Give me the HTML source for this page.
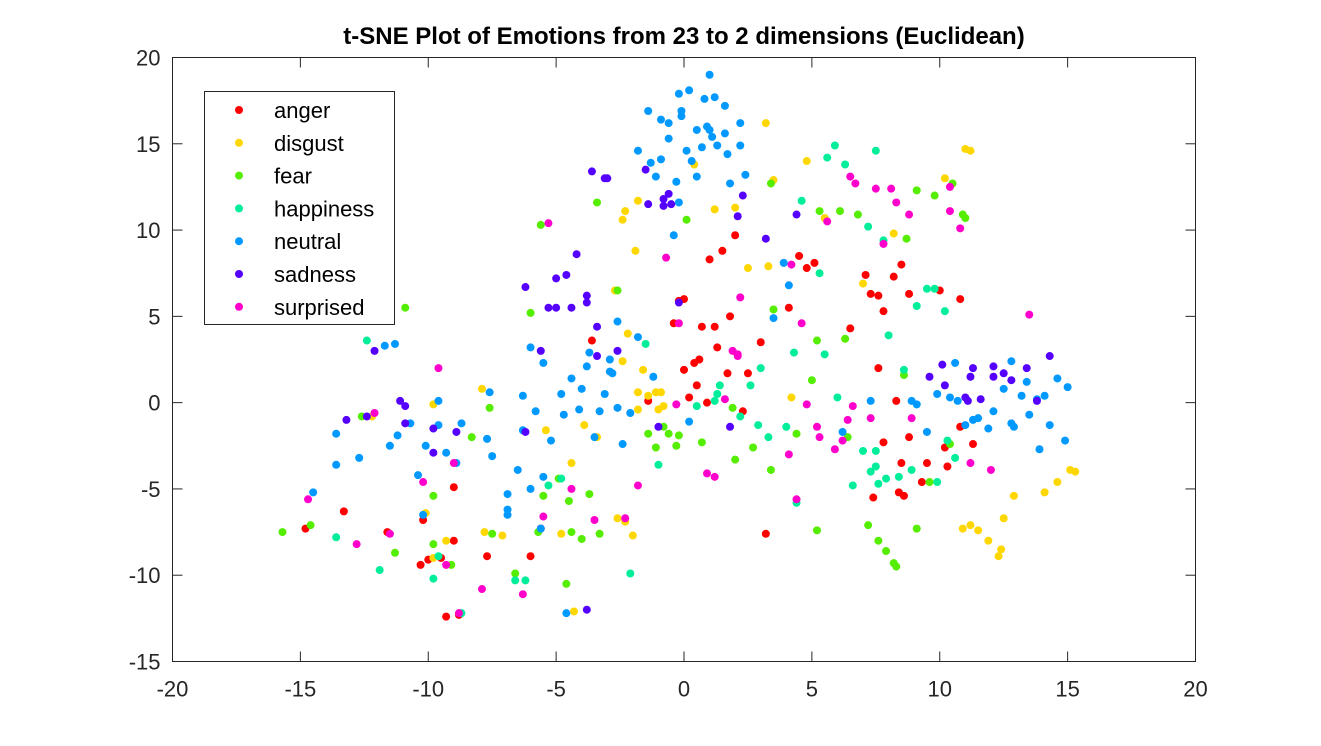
<!DOCTYPE html>
<html><head><meta charset="utf-8"><style>
html,body{margin:0;padding:0;background:#fff;}
svg{display:block;font-family:"Liberation Sans",Arial,sans-serif;}
</style></head><body>
<svg id="chart" width="1321" height="746" viewBox="0 0 1321 746" xmlns="http://www.w3.org/2000/svg">
<rect x="0" y="0" width="1321" height="746" fill="#fff"/>
<text x="684" y="44" text-anchor="middle" font-size="24" font-weight="bold" fill="#000">t-SNE Plot of Emotions from 23 to 2 dimensions (Euclidean)</text>
<g id="marks"></g>
<rect x="172.5" y="57.5" width="1023" height="604" fill="none" stroke="#262626" stroke-width="1"/>
<g id="axes"></g>
<g id="legend"></g>
</svg>
<script>
const xTicks=[-20,-15,-10,-5,0,5,10,15,20];
const yTicks=[-15,-10,-5,0,5,10,15,20];
const categories=["anger","disgust","fear","happiness","neutral","sadness","surprised"];
const colors=["#ff0000","#ffd700","#55ee00","#00ee99","#0099ff","#5500ff","#ff00cc"];
const anger=[[-14.8,-7.3],[-13.3,-6.3],[-11.6,-7.5],[-10.2,-6.8],[-10.3,-9.4],[-10,-9.1],[-9.5,-9.0],[-9.3,-12.4],[-9,-4.9],[-9,-8.0],[-8.8,-12.3],[-7.7,-8.9],[-6,-8.9],[-5.6,-7.3],[-3.6,3.6],[0.4,2.3],[0.6,2.5],[0.7,4.4],[1,8.3],[1.2,4.4],[1.5,8.8],[1.7,1.7],[1.3,3.2],[1.8,5],[2,9.7],[2.5,1.7],[3,3.5],[0.5,1.0],[0.9,0],[2.3,-0.5],[3.2,-7.6],[4.1,5.5],[4.5,8.5],[4.8,7.8],[5.1,8.1],[6.5,4.3],[7.1,7.4],[7.3,6.3],[7.6,6.2],[7.8,5.3],[8.2,7.3],[8.5,8],[7.6,2],[8.8,6.3],[10,6.5],[10.8,6],[7.8,-2.3],[7.4,-5.5],[8.5,-3.5],[8.4,-5.2],[8.6,-5.4],[9.5,-3.5],[10.2,-2.6],[10.3,-3.7],[10.8,-1.4],[11.3,-2.4],[9.3,-4.6],[8.8,-2.0],[8.3,0.1],[-0.2,5.9],[0,6.0],[-0.4,4.6],[0,1.9],[0.2,0.3],[-1.4,0.1]];
const disgust=[[-12.2,-0.8],[-9.8,-0.1],[-9.8,-9.0],[-9.3,-8.0],[-7.9,0.8],[-7.8,-7.5],[-7.1,-7.7],[-5.4,-1.6],[-4.8,-7.6],[-4.4,-3.5],[-4.3,-12.1],[-3.9,-1.3],[-2.6,-6.7],[-2.3,-6.9],[-2.0,-7.7],[-1.6,1.9],[-1.8,0.6],[-1.8,-0.4],[-1.0,-0.4],[-0.8,-0.2],[-1.4,0.4],[-1.1,0.6],[-0.9,0.6],[-2.3,11.1],[-1.8,11.7],[-1.9,8.8],[-2.4,10.6],[-2.7,6.5],[-2.2,4.0],[-2.4,2.4],[0.4,13.8],[1.2,11.2],[2.0,11.3],[3.2,16.2],[2.5,7.8],[3.3,7.9],[3.5,12.9],[4.8,14],[5.5,10.7],[7,6.9],[8.2,9.8],[10.2,13],[11,14.7],[11.2,14.6],[10.9,-7.3],[11.2,-7.1],[11.5,-7.4],[11.9,-8],[12.3,-8.9],[12.4,-8.5],[12.5,-6.7],[12.9,-5.4],[14.1,-5.2],[14.6,-4.6],[15.1,-3.9],[15.3,-4.0],[-10.1,-6.4],[-3.4,-2.0],[4.2,0.3]];
const fear=[[-15.7,-7.5],[-14.6,-7.1],[-11.3,-8.7],[-10.9,5.5],[-9.8,-5.4],[-9.8,-8.2],[-9.1,-9.4],[-7.6,-0.3],[-7.5,-7.6],[-6.6,-9.9],[-5.7,-7.5],[-5.5,-5.4],[-4.9,-4.4],[-4.6,-10.5],[-4.5,-5.7],[-4.4,-7.5],[-4.0,-7.9],[-3.7,-5.3],[-3.3,-7.6],[-6,5.2],[-5.6,10.3],[-3.4,11.6],[-2.6,6.5],[-1.4,-1.8],[-0.8,-1.4],[-0.6,-1.8],[-1.1,-2.6],[-0.3,-2.5],[-0.2,-1.9],[0.1,10.6],[0.7,-2.3],[1.9,-0.3],[2,-3.3],[2.7,-2.6],[3.4,-3.9],[3.5,5.4],[3.4,12.7],[4.4,-1.8],[5,1.3],[5.2,-7.4],[5.2,3.6],[5.3,11.1],[6.4,-2.0],[6.3,3.7],[6.8,10.9],[7.2,-7.1],[7.6,-8.0],[7.9,-8.6],[8.2,-9.3],[8.3,-9.5],[8.6,1.6],[9.1,12.3],[9.1,-7.3],[9.6,-4.6],[9.8,12],[10.4,-2.4],[10.5,12.7],[10.9,10.9],[11,10.7],[6.1,11.1],[8.7,9.5],[-12.6,-0.8],[-8.3,-2.0]];
const happiness=[[-12.4,3.6],[-11.9,-9.7],[-13.6,-7.8],[-9.8,-10.2],[-8.7,-12.2],[-6.6,-10.3],[-6.2,-10.3],[-4.8,-4.4],[-5.3,-4.8],[-2.1,-9.9],[-1.0,-3.6],[-1.5,3.4],[0.5,-0.2],[1.2,0.1],[1.3,0.5],[1.4,1.0],[2.2,-0.8],[2.6,1.0],[2.9,-1.3],[3.0,2.0],[3.3,-2.0],[4.0,-1.4],[4.3,2.9],[4.4,-5.8],[4.6,11.7],[5.3,7.5],[5.5,2.8],[5.6,14.2],[5.9,14.9],[6.3,13.8],[6.6,-4.8],[6.0,0.3],[7.3,-4.0],[7.5,-3.7],[7.6,-4.7],[7.9,-4.4],[7.5,14.6],[7.2,10.2],[7.0,-2.8],[7.5,-2.8],[8.4,-4.3],[8.6,1.9],[8.9,-3.9],[9.1,5.6],[9.5,6.6],[9.8,6.6],[9.9,-4.6],[10.2,5.3],[10.3,-2.2],[10.6,-3.2],[8.0,3.9],[7.8,9.4],[-9.6,-8.9]];
const neutral=[[-14.5,-5.2],[-13.6,-1.8],[-13.6,-3.6],[-12.7,-3.2],[-11.7,3.3],[-11.5,-2.5],[-11.3,3.4],[-11.2,-1.9],[-10.7,-1.2],[-10.4,-4.2],[-10.2,-6.5],[-10.1,-2.5],[-9.3,-2.9],[-8.7,-1.2],[-9.6,-1.3],[-9.6,0.1],[-7.7,-2.1],[-7.6,0.6],[-7.5,-3.1],[-6.9,-5.3],[-6.9,-6.2],[-6.9,-6.5],[-6.5,-3.9],[-6.3,-1.6],[-6.3,0.4],[-6,-5],[-5.8,-0.5],[-5.6,-7.3],[-5.5,-4.3],[-5.5,2.3],[-6,3.2],[-5.2,-2.2],[-4.8,0.5],[-4.7,-0.7],[-4.6,-12.2],[-4.4,1.4],[-4.1,-0.4],[-4,0.8],[-3.8,2.1],[-3.7,2.9],[-3.5,-2.0],[-3.3,-0.5],[-3.1,0.5],[-2.9,2.5],[-2.6,-0.3],[-2.6,4.7],[-2.8,1.7],[-2.1,-0.6],[-2.4,-2.4],[-1.8,14.6],[-1.8,3.8],[-1.4,16.9],[-1.3,13.9],[-1.2,1.5],[-0.9,16.4],[-0.6,16.2],[-0.6,15.3],[-0.9,14.1],[-0.3,12.8],[-0.2,11.6],[-0.4,9.7],[-0.2,17.9],[-0.1,16.9],[-0.1,16.6],[0.2,18.1],[0.1,14.6],[0.3,14],[0.5,15.8],[0.7,14.8],[0.8,17.6],[0.9,16.0],[1.0,15.8],[1.1,15.4],[1.2,17.7],[1.3,14.9],[1.6,15.6],[1.7,14.4],[1.8,12.7],[1.0,19],[2.2,14.9],[2.2,16.2],[0.5,13.1],[1.6,17.2],[2.4,13.2],[-1.1,13.1],[0.2,-1.1],[3.5,4.9],[3.9,8.1],[4.1,6.8],[6.2,-1.7],[7.3,0.1],[8.9,0.1],[9.1,-0.1],[9.5,-1.7],[9.9,0.5],[10.4,0.3],[10.7,0.1],[10.6,2.3],[11.0,-1.3],[11.3,-1.0],[11.5,-0.9],[11.9,-1.5],[12.1,-0.5],[12.5,0.8],[12.8,-1.2],[12.8,2.4],[12.9,-1.4],[13.2,0.4],[13.4,1.2],[13.5,-0.7],[13.8,0.2],[13.9,-2.7],[14.1,0.4],[14.3,-1.3],[14.6,1.4],[14.9,-2.2],[15.0,0.9],[-8.9,-3.5],[-2.9,1.8]];
const sadness=[[-13.2,-1.0],[-12.1,3.0],[-12.4,-0.8],[-11.1,0.1],[-10.9,-0.2],[-10.9,-1.2],[-9.8,-1.5],[-9.8,-2.9],[-8.9,-1.7],[-6.2,-1.7],[-6.2,6.7],[-5.6,3.0],[-5.3,5.5],[-5,7.2],[-5,5.5],[-4.6,7.4],[-4.4,5.5],[-4.2,8.6],[-3.8,6.2],[-3.8,5.8],[-3.4,4.4],[-3.4,2.7],[-3.1,13.0],[-3.0,13],[-2.6,3.0],[-3.6,13.4],[-1.4,11.5],[-1.5,13.5],[-0.6,12.1],[-0.8,11.8],[-0.8,11.4],[-0.5,11.5],[-0.2,5.8],[-1.0,-1.4],[2.1,10.8],[2.3,12.0],[3.2,9.5],[4.4,10.9],[1.8,-1.4],[-3.8,-12.0],[9.6,1.5],[10.1,2.2],[10.2,1.0],[11.0,0.3],[11.2,1.5],[11.3,2.0],[11.6,0.2],[12.1,1.5],[12.1,2.1],[12.5,1.7],[13.4,2.0],[14.3,2.7],[12.8,1.3],[13.8,0.1],[11.1,0.1]];
const surprised=[[-14.7,-5.6],[-12.8,-8.2],[-11.5,-7.6],[-10.2,-4.6],[-9.6,2.0],[-9.3,-9.4],[-9.0,-3.5],[-8.8,-12.2],[-7.9,-10.8],[-6.3,-11.1],[-5.5,-6.6],[-4.4,-5.0],[-3.5,-6.8],[-2.3,-6.7],[-1.8,-4.8],[-5.3,10.4],[-0.7,8.4],[-0.2,4.6],[0.9,-4.1],[1.2,-4.3],[1.6,0.2],[1.9,3.0],[2.1,2.8],[2.2,6.1],[2.1,2.7],[4.1,-3.0],[4.4,-5.6],[4.2,8.0],[4.6,4.6],[4.8,-0.1],[5.2,-1.4],[5.3,-2.0],[5.6,10.5],[5.9,-2.7],[6.2,-2.2],[6.4,-1.0],[6.6,-0.2],[6.5,13.1],[6.7,12.7],[7.3,-0.9],[7.5,12.4],[7.8,9.2],[8.1,12.4],[8.3,11.6],[8.8,10.9],[8.9,-0.9],[10.4,12.5],[10.4,11.1],[10.8,10.1],[11.2,-3.5],[12,-3.9],[13.5,5.1],[-0.3,-0.1],[-12.1,-0.6]];
const series=[anger,disgust,fear,happiness,neutral,sadness,surprised];

const NS="http://www.w3.org/2000/svg";
const X0=172.5,X1=1195.5,Y0=661.5,Y1=57.5;
function sx(v){return X0+(v+20)/40*(X1-X0);}
function sy(v){return Y0-(v+15)/35*(Y0-Y1);}
function mk(tag,attrs){const e=document.createElementNS(NS,tag);for(const k in attrs)e.setAttribute(k,attrs[k]);return e;}

const marks=document.getElementById('marks');
series.forEach((pts,si)=>{
  pts.forEach(p=>{
    const c=mk('circle',{cx:sx(p[0]),cy:sy(p[1]),r:4,fill:colors[si]});
    
    
    marks.appendChild(c);
  });
});

const axes=document.getElementById('axes');
xTicks.forEach(t=>{
  const x=sx(t);
  const l1=mk('line',{x1:x,x2:x,y1:Y0,y2:Y0-10,stroke:'#262626'});
  
  
  axes.appendChild(l1);
  const l2=mk('line',{x1:x,x2:x,y1:Y1,y2:Y1+10,stroke:'#262626'});
  
  
  axes.appendChild(l2);
  const tx=mk('text',{x:x,y:Y0+35,'text-anchor':'middle','font-size':22,fill:'#262626'});
  tx.textContent=t;
  
  
  axes.appendChild(tx);
});
yTicks.forEach(t=>{
  const y=sy(t);
  const l1=mk('line',{x1:X0,x2:X0+10,y1:y,y2:y,stroke:'#262626'});
  
  
  axes.appendChild(l1);
  const l2=mk('line',{x1:X1,x2:X1-10,y1:y,y2:y,stroke:'#262626'});
  
  
  axes.appendChild(l2);
  const tx=mk('text',{x:X0-12,y:y+8,'text-anchor':'end','font-size':22,fill:'#262626'});
  tx.textContent=t;
  
  
  axes.appendChild(tx);
});

const lg=document.getElementById('legend');
const box=mk('rect',{x:204.5,y:91.5,width:190,height:233,fill:'#fff',stroke:'#262626'});


lg.appendChild(box);
categories.forEach((c,i)=>{
  const y=110+i*32.8;
  const d=mk('circle',{cx:239,cy:y,r:4,fill:colors[i]});
  
  
  lg.appendChild(d);
  const t=mk('text',{x:274,y:y+8,'font-size':22,fill:'#000'});
  t.textContent=c;
  
  
  lg.appendChild(t);
});
</script>
</body></html>
